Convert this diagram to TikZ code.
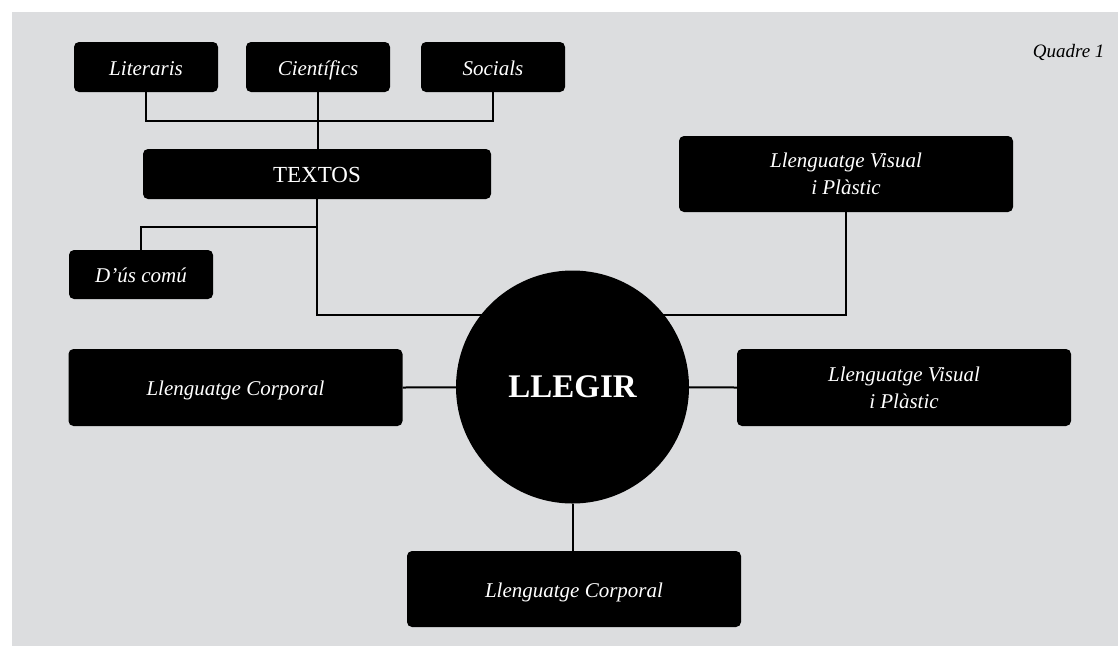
\documentclass[tikz,border=0pt]{standalone}
\usepackage{fontspec}
\setmainfont{Liberation Serif}
\usetikzlibrary{backgrounds}
\definecolor{panel}{RGB}{220,221,223}
\begin{document}
\begin{tikzpicture}[x=1pt,y=-1pt,
  box/.style={fill=black,rounded corners=5pt,text=white,align=center,inner sep=0pt,
     font=\fontsize{21}{27}\selectfont\itshape},
  oneline/.style={text height=18pt,text depth=2pt},
  small/.style={box,oneline,minimum width=144pt,minimum height=50pt},
  big/.style={box,minimum width=334pt,minimum height=77pt},
  link/.style={draw=black,line width=2pt}]
\useasboundingbox (0,0) rectangle (1118,646);
% nodes
\node[small] (lit) at (146,67) {Literaris};
\node[small] (cie) at (318,67) {Científics};
\node[small] (soc) at (493,67) {Socials};
\node[box,oneline,minimum width=348pt,minimum height=50pt,font=\fontsize{23}{27}\selectfont] (textos) at (317,174) {TEXTOS};
\node[small,minimum height=49pt] (dus) at (141,274.5) {D’ús comú};
\node[big,minimum height=76pt] (vis1) at (846,174) {Llenguatge Visual\\i Plàstic};
\node[big,oneline] (corp1) at (235.5,387.5) {Llenguatge Corporal};
\node[big] (vis2) at (904,387.5) {Llenguatge Visual\\i Plàstic};
\node[big,oneline,minimum height=76pt] (corp2) at (574,589) {Llenguatge Corporal};
\node[circle,fill=black,minimum size=233pt,inner sep=0pt,text=white,
  font=\fontsize{33}{36}\selectfont\bfseries] (circ) at (572.5,387) {LLEGIR};
\node[anchor=base east,font=\fontsize{19}{22}\selectfont\itshape] (quadre) at (1108,57) {Quadre 1};
\coordinate (j3) at (317,121);
\coordinate (j1) at (317,315);
\coordinate (j2) at (317,227);
\begin{scope}[on background layer]
  \fill[panel] (12,12) rectangle (1118,646);
  \draw[link] (lit.south) |- (j3) -| (soc.south);
  \draw[link] (cie.south) -- (cie.south |- textos.north);
  \draw[link] (textos.south) -- (j1) -- (circ.center |- j1);
  \draw[link] (j2) -| (dus.north);
  \draw[link] (vis1.south) |- (circ.center |- j1);
  \draw[link] (corp1.east) -- (circ.center);
  \draw[link] (circ.center) -- (vis2.west);
  \draw[link] (circ.south) -- (circ.south |- corp2.north);
\end{scope}
\end{tikzpicture}
\end{document}
